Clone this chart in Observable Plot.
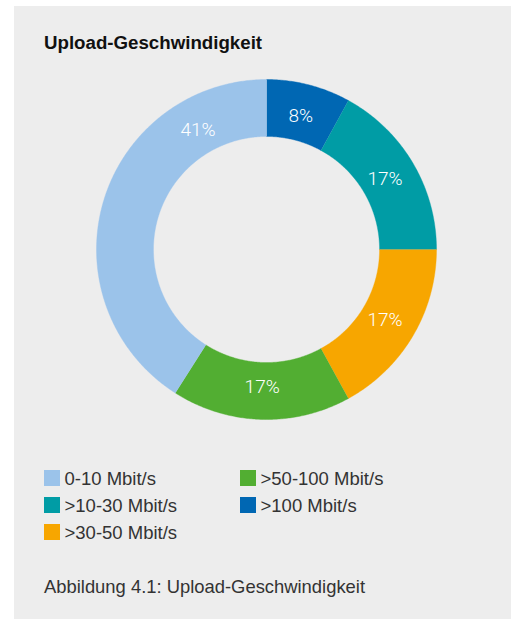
<!DOCTYPE html>
<html>
<head>
<meta charset="utf-8">
<script src="https://cdn.jsdelivr.net/npm/d3@7"></script>
<script src="https://cdn.jsdelivr.net/npm/@observablehq/plot@0.6"></script>
<style>
  html, body { margin: 0; padding: 0; background: #ffffff; }
  body { width: 511px; height: 619px; position: relative; overflow: hidden; font-family: "Liberation Sans", Arial, sans-serif; }
  #panel { position: absolute; left: 14px; top: 6px; width: 497px; height: 613px; background: #ededed; }
  .abs { position: absolute; white-space: nowrap; line-height: 1; color: #333333; }
  #title { left: 44px; top: 34.2px; font-size: 18.7px; font-weight: bold; color: #111111; }
  #chart { position: absolute; left: 0; top: 69px; }
  .sw { position: absolute; width: 16px; height: 16px; }
  .lt { font-size: 18.5px; }
  #caption { left: 44px; top: 578px; font-size: 18.4px; }
</style>
</head>
<body>
<div id="panel"></div>
<div id="title" class="abs">Upload-Geschwindigkeit</div>
<div id="chart"></div>
<div id="legend"></div>
<div id="caption" class="abs">Abbildung 4.1: Upload-Geschwindigkeit</div>
<script>
// Data
const categories = ["0-10 Mbit/s", ">10-30 Mbit/s", ">30-50 Mbit/s", ">50-100 Mbit/s", ">100 Mbit/s"];
const values = [41, 17, 17, 17, 8];
const colors = ["#9bc3ea", "#009ca5", "#f7a600", "#52ae32", "#0067b3"];
// clockwise order of slices, starting at 12 o'clock
const sliceOrder = [">100 Mbit/s", ">10-30 Mbit/s", ">30-50 Mbit/s", ">50-100 Mbit/s", "0-10 Mbit/s"];

const rOuter = 1, rInner = 0.665, rLabel = 0.81;

const ordered = sliceOrder.map(c => ({cat: c, value: values[categories.indexOf(c)]}));
const arcs = d3.pie().sort(null).value(d => d.value).startAngle(0).endAngle(2 * Math.PI)(ordered);

const pts = [];
for (const a of arcs) {
  const n = Math.max(8, Math.ceil((a.endAngle - a.startAngle) / (Math.PI / 360)));
  for (let i = 0; i <= n; i++) {
    const t = a.startAngle + (a.endAngle - a.startAngle) * i / n;
    pts.push({cat: a.data.cat, x: rOuter * Math.sin(t), y: rOuter * Math.cos(t)});
  }
  for (let i = n; i >= 0; i--) {
    const t = a.startAngle + (a.endAngle - a.startAngle) * i / n;
    pts.push({cat: a.data.cat, x: rInner * Math.sin(t), y: rInner * Math.cos(t)});
  }
}

const labels = arcs.map(a => {
  const span = a.endAngle - a.startAngle;
  const t = span > Math.PI / 2 ? a.endAngle - 0.52 : (a.startAngle + a.endAngle) / 2;
  return {x: rLabel * Math.sin(t), y: rLabel * Math.cos(t), text: a.data.value + "%"};
});

const plot = Plot.plot({
  width: 511,
  height: 360,
  marginLeft: 96,
  marginRight: 75,
  marginTop: 10,
  marginBottom: 10,
  x: {domain: [-1, 1], axis: null},
  y: {domain: [-1, 1], axis: null},
  color: {domain: categories, range: colors},
  style: {background: "transparent", overflow: "visible"},
  marks: [
    Plot.line(pts, {x: "x", y: "y", z: "cat", fill: "cat", stroke: "cat", strokeWidth: 0.4, curve: "linear"}),
    Plot.text(labels, {x: "x", y: "y", text: "text", fill: "white", fontSize: 19, fontWeight: 300, fontFamily: "Roboto, 'Liberation Sans', sans-serif", lineAnchor: "middle", textAnchor: "middle"})
  ]
});
document.getElementById("chart").appendChild(plot);

// Legend (column-major, 3 rows)
const colorScale = plot.scale("color");
const legend = document.getElementById("legend");
const colX = [44, 240];
const rowY = [470, 497, 524];
categories.forEach((c, i) => {
  const col = Math.floor(i / 3), row = i % 3;
  const sw = document.createElement("div");
  sw.className = "sw";
  sw.style.left = colX[col] + "px";
  sw.style.top = rowY[row] + "px";
  sw.style.background = colorScale.apply(c);
  legend.appendChild(sw);
  const t = document.createElement("div");
  t.className = "abs lt";
  t.style.left = (colX[col] + 20.5) + "px";
  t.style.top = (rowY[row] + 0.4) + "px";
  t.textContent = c;
  legend.appendChild(t);
});
</script>
</body>
</html>
